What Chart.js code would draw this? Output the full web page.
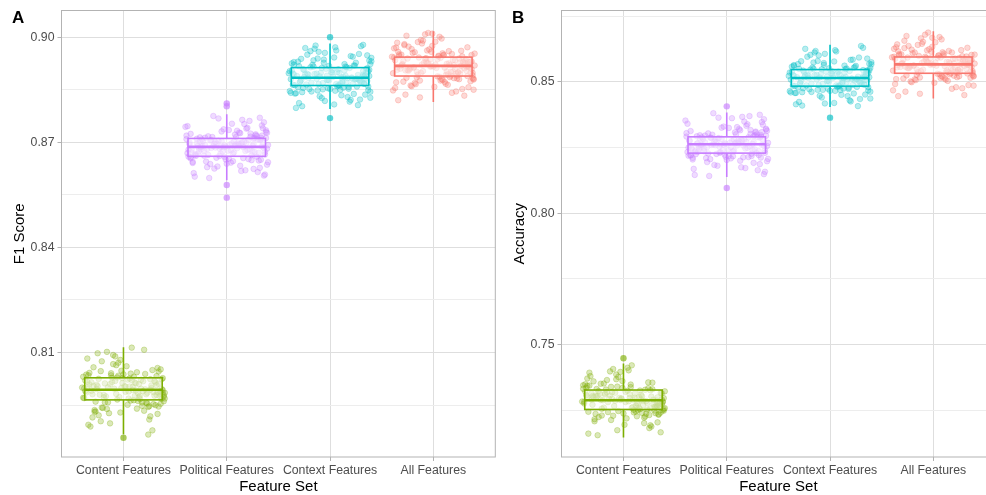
<!DOCTYPE html>
<html lang="en">
<head>
  <meta charset="UTF-8" />
  <title>Feature Set Comparison</title>
  <script src="https://cdn.jsdelivr.net/npm/chart.js"></script>
  <style>
    html, body { margin: 0; padding: 0; background: #fff; overflow: hidden; width: 986px; height: 495px; }
    .panel { position: absolute; top: 0; }
    .tag { position: absolute; top: 8px; font: bold 17px "Liberation Sans", Arial, sans-serif; color: #000; line-height: 1.15; }
  </style>
</head>
<body>
  <div class="panel" style="left:0"><canvas id="f1Chart" width="500" height="495"></canvas></div>
  <div class="panel" style="left:500px"><canvas id="accChart" width="500" height="495"></canvas></div>
  <div class="tag" style="left:12px">A</div>
  <div class="tag" style="left:512px">B</div>

  <script>
    const categories = ['Content Features', 'Political Features', 'Context Features', 'All Features'];
    const colors = ['#7CAE00', '#C77CFF', '#00BFC4', '#F8766D'];

    // horizontal jitter (category units)
    const jitterX = [
      -0.31, 0.12, 0.37, -0.05, 0.24, -0.38, 0.08, -0.19, 0.33, -0.27,
      0.02, 0.29, -0.12, 0.18, -0.35, 0.39, -0.08, 0.21, -0.24, 0.06,
      0.35, -0.33, 0.14, -0.02, 0.27, -0.16, 0.31, -0.39, 0.10, -0.22,
      0.38, -0.10, 0.16, -0.29, 0.04, 0.26, -0.36, 0.20, -0.06, 0.34,
      -0.14, 0.00, -0.26, 0.22, 0.36, -0.18, 0.09, -0.32, 0.30, -0.04,
      0.13, -0.37, 0.25, -0.11, 0.40, -0.21, 0.05, 0.32, -0.28, 0.17,
      -0.09, 0.28, -0.34, 0.11, -0.01, 0.23, -0.25, 0.36, -0.15, 0.07,
      0.34, -0.30, 0.19, -0.07, 0.38, -0.20, 0.03, 0.26, -0.38, 0.15,
      -0.13, 0.32, -0.23, 0.01, 0.29, -0.35, 0.12, -0.03, 0.37, -0.17,
      0.21, -0.27, 0.08, 0.33, -0.11, 0.18, -0.40, 0.24, -0.06, 0.39,
      0.27, -0.19, -0.36, 0.05, 0.31, -0.08, 0.14, -0.29, 0.39, -0.02,
      -0.24, 0.20, 0.09, -0.33, 0.35, -0.13, 0.25, -0.39, 0.02, 0.16,
      -0.05, 0.37, -0.21, 0.11, -0.30, 0.28, -0.15, 0.06, 0.33, -0.37,
      0.19, -0.10, 0.40, -0.26, 0.13, -0.01, 0.23, -0.34, 0.07, 0.30,
      -0.18, 0.36, -0.07, 0.17, -0.28, 0.04, 0.32, -0.22, 0.10, -0.35,
      0.26, -0.12, 0.38, -0.03, 0.22, -0.31, 0.15, -0.16, 0.34, -0.25
    ];
    const jitterShift = [0, 23, 47, 71];

    // ---- Panel A: F1 score ----
    const f1Content = [
      0.7991, 0.8012, 0.7968, 0.8034, 0.7945, 0.7998, 0.8021, 0.7979, 0.8056, 0.7932,
      0.8003, 0.7987, 0.8041, 0.7958, 0.8017, 0.7974, 0.8089, 0.7995, 0.7921, 0.8026,
      0.7983, 0.8009, 0.7962, 0.8048, 0.7999, 0.7939, 0.8015, 0.7971, 0.8031, 0.7904,
      0.7993, 0.8067, 0.7977, 0.8005, 0.7951, 0.8024, 0.7986, 0.8108, 0.7966, 0.8011,
      0.7927, 0.8038, 0.7996, 0.7981, 0.8052, 0.7958, 0.8002, 0.7889, 0.8019, 0.7973,
      0.8044, 0.7990, 0.7947, 0.8028, 0.7985, 0.8075, 0.7969, 0.8007, 0.7936, 0.8022,
      0.7997, 0.7878, 0.8035, 0.7976, 0.8013, 0.7955, 0.8098, 0.7988, 0.8001, 0.7963,
      0.8046, 0.7915, 0.8018, 0.7982, 0.8027, 0.7942, 0.8061, 0.7994, 0.7970, 0.8010,
      0.7898, 0.8033, 0.7980, 0.8004, 0.7953, 0.8083, 0.7992, 0.7929, 0.8024, 0.7975,
      0.8039, 0.7960, 0.8114, 0.7987, 0.8016, 0.7948, 0.8000, 0.7866, 0.8029, 0.7978,
      0.8006, 0.7972, 0.8037, 0.7989, 0.7950, 0.8019, 0.7984, 0.8058, 0.7961, 0.7999,
      0.8025, 0.7934, 0.7993, 0.8042, 0.7976, 0.8010, 0.7909, 0.8031, 0.7988, 0.7967,
      0.8071, 0.7996, 0.7943, 0.8014, 0.7981, 0.8050, 0.7958, 0.8003, 0.7925, 0.8020,
      0.7990, 0.8093, 0.7969, 0.8008, 0.7940, 0.8027, 0.7985, 0.7894, 0.8040, 0.7977,
      0.8012, 0.7954, 0.8064, 0.7997, 0.7931, 0.8023, 0.7979, 0.8047, 0.7964, 0.8001,
      0.7918, 0.8035, 0.7986, 0.8079, 0.7957, 0.8015, 0.7973, 0.8102, 0.7946, 0.8004
    ];
    const f1Political = [
      0.8691, 0.8672, 0.8705, 0.8648, 0.8719, 0.8683, 0.8662, 0.8734, 0.8696, 0.8655,
      0.8710, 0.8677, 0.8624, 0.8699, 0.8741, 0.8668, 0.8688, 0.8715, 0.8639, 0.8702,
      0.8680, 0.8757, 0.8664, 0.8694, 0.8612, 0.8708, 0.8674, 0.8726, 0.8659, 0.8690,
      0.8685, 0.8643, 0.8713, 0.8697, 0.8770, 0.8667, 0.8701, 0.8631, 0.8723, 0.8679,
      0.8692, 0.8651, 0.8716, 0.8686, 0.8605, 0.8706, 0.8671, 0.8748, 0.8661, 0.8698,
      0.8682, 0.8729, 0.8645, 0.8693, 0.8711, 0.8669, 0.8764, 0.8689, 0.8627, 0.8703,
      0.8676, 0.8718, 0.8657, 0.8695, 0.8737, 0.8665, 0.8598, 0.8707, 0.8684, 0.8722,
      0.8650, 0.8700, 0.8675, 0.8744, 0.8663, 0.8687, 0.8636, 0.8712, 0.8681, 0.8694,
      0.8753, 0.8670, 0.8704, 0.8618, 0.8697, 0.8727, 0.8658, 0.8689, 0.8678, 0.8715,
      0.8641, 0.8699, 0.8775, 0.8673, 0.8709, 0.8653, 0.8686, 0.8731, 0.8608, 0.8692,
      0.8698, 0.8666, 0.8720, 0.8684, 0.8646, 0.8707, 0.8679, 0.8739, 0.8656, 0.8692,
      0.8714, 0.8633, 0.8688, 0.8725, 0.8671, 0.8702, 0.8615, 0.8717, 0.8683, 0.8661,
      0.8752, 0.8690, 0.8642, 0.8706, 0.8676, 0.8733, 0.8654, 0.8695, 0.8625, 0.8712,
      0.8686, 0.8761, 0.8664, 0.8700, 0.8638, 0.8719, 0.8680, 0.8602, 0.8728, 0.8672,
      0.8703, 0.8649, 0.8746, 0.8691, 0.8629, 0.8713, 0.8674, 0.8735, 0.8659, 0.8696,
      0.8620, 0.8724, 0.8682, 0.8768, 0.8652, 0.8708, 0.8668, 0.8740, 0.8644, 0.8697
    ];
    const f1Context = [
      0.8889, 0.8871, 0.8910, 0.8856, 0.8925, 0.8880, 0.8866, 0.8941, 0.8893, 0.8847,
      0.8903, 0.8877, 0.8829, 0.8898, 0.8952, 0.8863, 0.8885, 0.8918, 0.8838, 0.8906,
      0.8875, 0.8967, 0.8860, 0.8891, 0.8812, 0.8912, 0.8869, 0.8933, 0.8852, 0.8887,
      0.8882, 0.8841, 0.8916, 0.8896, 0.8978, 0.8865, 0.8901, 0.8822, 0.8929, 0.8874,
      0.8890, 0.8849, 0.8921, 0.8883, 0.8803, 0.8908, 0.8868, 0.8958, 0.8858, 0.8897,
      0.8879, 0.8936, 0.8844, 0.8892, 0.8914, 0.8864, 0.8971, 0.8886, 0.8826, 0.8905,
      0.8873, 0.8923, 0.8854, 0.8894, 0.8946, 0.8861, 0.8798, 0.8909, 0.8881, 0.8927,
      0.8846, 0.8899, 0.8872, 0.8955, 0.8859, 0.8884, 0.8834, 0.8917, 0.8878, 0.8895,
      0.8962, 0.8867, 0.8904, 0.8816, 0.8888, 0.8931, 0.8855, 0.8886, 0.8876, 0.8919,
      0.8839, 0.8900, 0.8974, 0.8870, 0.8911, 0.8851, 0.8883, 0.8938, 0.8808, 0.8893,
      0.8895, 0.8868, 0.8921, 0.8881, 0.8848, 0.8907, 0.8877, 0.8944, 0.8857, 0.8890,
      0.8916, 0.8836, 0.8886, 0.8930, 0.8870, 0.8902, 0.8818, 0.8919, 0.8880, 0.8863,
      0.8960, 0.8888, 0.8843, 0.8906, 0.8874, 0.8939, 0.8853, 0.8894, 0.8827, 0.8912,
      0.8885, 0.8969, 0.8866, 0.8899, 0.8840, 0.8923, 0.8878, 0.8806, 0.8934, 0.8871,
      0.8903, 0.8850, 0.8950, 0.8889, 0.8831, 0.8914, 0.8873, 0.8942, 0.8859, 0.8896,
      0.8821, 0.8927, 0.8882, 0.8976, 0.8852, 0.8908, 0.8867, 0.8948, 0.8845, 0.8898
    ];
    const f1All = [
      0.8921, 0.8902, 0.8940, 0.8883, 0.8955, 0.8912, 0.8895, 0.8968, 0.8925, 0.8876,
      0.8937, 0.8908, 0.8858, 0.8929, 0.8984, 0.8892, 0.8916, 0.8949, 0.8866, 0.8934,
      0.8905, 0.8996, 0.8889, 0.8922, 0.8841, 0.8944, 0.8899, 0.8962, 0.8881, 0.8918,
      0.8913, 0.8871, 0.8947, 0.8927, 0.9008, 0.8894, 0.8932, 0.8850, 0.8958, 0.8904,
      0.8920, 0.8878, 0.8951, 0.8914, 0.8828, 0.8939, 0.8897, 0.8987, 0.8886, 0.8926,
      0.8909, 0.8966, 0.8872, 0.8923, 0.8945, 0.8893, 0.9001, 0.8917, 0.8855, 0.8935,
      0.8903, 0.8953, 0.8884, 0.8924, 0.8975, 0.8890, 0.8820, 0.8941, 0.8911, 0.8957,
      0.8874, 0.8930, 0.8901, 0.8980, 0.8888, 0.8915, 0.8862, 0.8948, 0.8907, 0.8928,
      0.8992, 0.8898, 0.8936, 0.8845, 0.8919, 0.8960, 0.8885, 0.8916, 0.8906, 0.8950,
      0.8867, 0.8931, 0.9012, 0.8900, 0.8942, 0.8880, 0.8914, 0.8971, 0.8836, 0.8922,
      0.8928, 0.8898, 0.8952, 0.8914, 0.8879, 0.8938, 0.8909, 0.8973, 0.8887, 0.8922,
      0.8946, 0.8864, 0.8917, 0.8961, 0.8901, 0.8933, 0.8848, 0.8950, 0.8912, 0.8891,
      0.8990, 0.8920, 0.8873, 0.8937, 0.8905, 0.8970, 0.8883, 0.8926, 0.8857, 0.8942,
      0.8916, 0.9004, 0.8896, 0.8930, 0.8869, 0.8954, 0.8910, 0.8833, 0.8965, 0.8902,
      0.8934, 0.8880, 0.8982, 0.8919, 0.8860, 0.8945, 0.8904, 0.8977, 0.8890, 0.8927,
      0.8852, 0.8958, 0.8913, 0.9010, 0.8882, 0.8939, 0.8899, 0.8986, 0.8876, 0.8929
    ];
    const f1Q1 = [0.7965, 0.8660, 0.8862, 0.8889];
    const f1Median = [0.7994, 0.8687, 0.8884, 0.8918];
    const f1Q3 = [0.8028, 0.8711, 0.8913, 0.8943];
    const f1Low = [0.7867, 0.8592, 0.8795, 0.8815];
    const f1High = [0.8115, 0.8780, 0.8982, 0.9017];
    const f1Outliers = [[0.7857], [0.8811, 0.8803, 0.8578, 0.8542], [0.9000, 0.8769], []];
    const f1Ticks = [0.795, 0.81, 0.825, 0.84, 0.855, 0.87, 0.885, 0.90];
    const f1Major = [0.81, 0.84, 0.87, 0.90];

    // ---- Panel B: accuracy ----
    const accContent = [
      0.7291, 0.7268, 0.7315, 0.7247, 0.7334, 0.7282, 0.7259, 0.7352, 0.7299, 0.7236,
      0.7320, 0.7275, 0.7213, 0.7303, 0.7371, 0.7255, 0.7286, 0.7328, 0.7224, 0.7311,
      0.7279, 0.7393, 0.7251, 0.7295, 0.7188, 0.7318, 0.7264, 0.7345, 0.7242, 0.7289,
      0.7284, 0.7229, 0.7325, 0.7301, 0.7412, 0.7257, 0.7307, 0.7201, 0.7340, 0.7271,
      0.7293, 0.7238, 0.7331, 0.7285, 0.7166, 0.7314, 0.7262, 0.7380, 0.7249, 0.7297,
      0.7277, 0.7349, 0.7232, 0.7294, 0.7322, 0.7256, 0.7402, 0.7287, 0.7208, 0.7309,
      0.7266, 0.7330, 0.7244, 0.7298, 0.7361, 0.7253, 0.7155, 0.7316, 0.7281, 0.7338,
      0.7235, 0.7304, 0.7270, 0.7386, 0.7250, 0.7288, 0.7219, 0.7326, 0.7276, 0.7300,
      0.7398, 0.7261, 0.7312, 0.7195, 0.7290, 0.7343, 0.7245, 0.7289, 0.7273, 0.7329,
      0.7226, 0.7306, 0.7421, 0.7265, 0.7319, 0.7240, 0.7283, 0.7356, 0.7174, 0.7296,
      0.7302, 0.7260, 0.7336, 0.7284, 0.7239, 0.7317, 0.7274, 0.7360, 0.7248, 0.7294,
      0.7323, 0.7222, 0.7290, 0.7344, 0.7267, 0.7306, 0.7182, 0.7332, 0.7281, 0.7254,
      0.7377, 0.7292, 0.7230, 0.7313, 0.7271, 0.7355, 0.7243, 0.7297, 0.7204, 0.7321,
      0.7286, 0.7407, 0.7258, 0.7303, 0.7227, 0.7335, 0.7278, 0.7161, 0.7348, 0.7263,
      0.7310, 0.7241, 0.7368, 0.7291, 0.7216, 0.7324, 0.7269, 0.7351, 0.7252, 0.7299,
      0.7193, 0.7339, 0.7280, 0.7396, 0.7237, 0.7314, 0.7259, 0.7365, 0.7233, 0.7305
    ];
    const accPolitical = [
      0.8266, 0.8244, 0.8288, 0.8222, 0.8305, 0.8258, 0.8236, 0.8322, 0.8272, 0.8213,
      0.8293, 0.8251, 0.8192, 0.8278, 0.8339, 0.8232, 0.8261, 0.8299, 0.8203, 0.8285,
      0.8254, 0.8358, 0.8228, 0.8269, 0.8169, 0.8290, 0.8241, 0.8316, 0.8219, 0.8264,
      0.8259, 0.8207, 0.8296, 0.8275, 0.8375, 0.8234, 0.8281, 0.8181, 0.8311, 0.8248,
      0.8267, 0.8215, 0.8302, 0.8260, 0.8149, 0.8287, 0.8239, 0.8347, 0.8225, 0.8271,
      0.8253, 0.8319, 0.8210, 0.8268, 0.8294, 0.8233, 0.8367, 0.8262, 0.8187, 0.8283,
      0.8243, 0.8300, 0.8221, 0.8273, 0.8330, 0.8230, 0.8142, 0.8289, 0.8257, 0.8308,
      0.8212, 0.8279, 0.8247, 0.8353, 0.8227, 0.8263, 0.8198, 0.8297, 0.8252, 0.8274,
      0.8362, 0.8237, 0.8286, 0.8175, 0.8265, 0.8314, 0.8223, 0.8262, 0.8249, 0.8301,
      0.8205, 0.8280, 0.8381, 0.8242, 0.8292, 0.8218, 0.8258, 0.8326, 0.8158, 0.8270,
      0.8276, 0.8238, 0.8308, 0.8260, 0.8217, 0.8292, 0.8250, 0.8333, 0.8226, 0.8268,
      0.8297, 0.8200, 0.8265, 0.8317, 0.8244, 0.8281, 0.8164, 0.8304, 0.8257, 0.8231,
      0.8349, 0.8267, 0.8209, 0.8288, 0.8246, 0.8328, 0.8220, 0.8272, 0.8184, 0.8295,
      0.8261, 0.8370, 0.8235, 0.8278, 0.8206, 0.8309, 0.8253, 0.8146, 0.8321, 0.8240,
      0.8284, 0.8218, 0.8341, 0.8266, 0.8195, 0.8298, 0.8245, 0.8325, 0.8229, 0.8274,
      0.8172, 0.8313, 0.8256, 0.8364, 0.8214, 0.8289, 0.8236, 0.8337, 0.8211, 0.8279
    ];
    const accContext = [
      0.8518, 0.8496, 0.8540, 0.8475, 0.8558, 0.8510, 0.8488, 0.8575, 0.8524, 0.8466,
      0.8545, 0.8503, 0.8446, 0.8530, 0.8593, 0.8485, 0.8513, 0.8552, 0.8456, 0.8537,
      0.8506, 0.8612, 0.8481, 0.8521, 0.8424, 0.8542, 0.8493, 0.8569, 0.8472, 0.8516,
      0.8511, 0.8460, 0.8549, 0.8527, 0.8630, 0.8487, 0.8533, 0.8435, 0.8564, 0.8500,
      0.8519, 0.8468, 0.8555, 0.8512, 0.8410, 0.8539, 0.8491, 0.8601, 0.8478, 0.8523,
      0.8505, 0.8572, 0.8463, 0.8520, 0.8547, 0.8486, 0.8621, 0.8514, 0.8441, 0.8535,
      0.8495, 0.8553, 0.8474, 0.8525, 0.8584, 0.8483, 0.8415, 0.8541, 0.8509, 0.8561,
      0.8465, 0.8531, 0.8499, 0.8607, 0.8480, 0.8515, 0.8451, 0.8550, 0.8504, 0.8526,
      0.8616, 0.8490, 0.8538, 0.8430, 0.8517, 0.8567, 0.8476, 0.8514, 0.8501, 0.8554,
      0.8458, 0.8532, 0.8637, 0.8494, 0.8544, 0.8470, 0.8510, 0.8579, 0.8420, 0.8522,
      0.8527, 0.8490, 0.8561, 0.8512, 0.8470, 0.8544, 0.8502, 0.8585, 0.8479, 0.8520,
      0.8550, 0.8452, 0.8517, 0.8568, 0.8496, 0.8534, 0.8418, 0.8557, 0.8509, 0.8485,
      0.8603, 0.8519, 0.8461, 0.8540, 0.8498, 0.8580, 0.8473, 0.8524, 0.8437, 0.8548,
      0.8513, 0.8626, 0.8487, 0.8531, 0.8458, 0.8562, 0.8505, 0.8408, 0.8574, 0.8492,
      0.8536, 0.8469, 0.8596, 0.8518, 0.8447, 0.8551, 0.8497, 0.8578, 0.8481, 0.8526,
      0.8426, 0.8565, 0.8508, 0.8618, 0.8466, 0.8543, 0.8489, 0.8589, 0.8462, 0.8529
    ];
    const accAll = [
      0.8570, 0.8548, 0.8592, 0.8526, 0.8609, 0.8562, 0.8540, 0.8626, 0.8576, 0.8517,
      0.8597, 0.8555, 0.8497, 0.8582, 0.8643, 0.8536, 0.8565, 0.8603, 0.8507, 0.8589,
      0.8558, 0.8662, 0.8532, 0.8573, 0.8474, 0.8594, 0.8545, 0.8620, 0.8523, 0.8568,
      0.8563, 0.8511, 0.8600, 0.8579, 0.8680, 0.8538, 0.8585, 0.8486, 0.8615, 0.8552,
      0.8571, 0.8519, 0.8606, 0.8564, 0.8455, 0.8591, 0.8543, 0.8651, 0.8529, 0.8575,
      0.8557, 0.8623, 0.8514, 0.8572, 0.8598, 0.8537, 0.8671, 0.8566, 0.8492, 0.8587,
      0.8547, 0.8604, 0.8525, 0.8577, 0.8634, 0.8534, 0.8446, 0.8593, 0.8561, 0.8612,
      0.8516, 0.8583, 0.8551, 0.8657, 0.8531, 0.8567, 0.8502, 0.8601, 0.8556, 0.8578,
      0.8666, 0.8541, 0.8590, 0.8480, 0.8569, 0.8618, 0.8527, 0.8566, 0.8553, 0.8605,
      0.8509, 0.8584, 0.8688, 0.8546, 0.8596, 0.8522, 0.8562, 0.8630, 0.8463, 0.8574,
      0.8579, 0.8541, 0.8612, 0.8564, 0.8521, 0.8596, 0.8554, 0.8637, 0.8530, 0.8572,
      0.8602, 0.8504, 0.8569, 0.8621, 0.8548, 0.8585, 0.8468, 0.8608, 0.8561, 0.8535,
      0.8653, 0.8571, 0.8513, 0.8592, 0.8550, 0.8632, 0.8524, 0.8576, 0.8488, 0.8599,
      0.8565, 0.8675, 0.8539, 0.8583, 0.8510, 0.8613, 0.8557, 0.8450, 0.8625, 0.8544,
      0.8588, 0.8522, 0.8645, 0.8570, 0.8499, 0.8601, 0.8549, 0.8629, 0.8533, 0.8578,
      0.8476, 0.8617, 0.8560, 0.8668, 0.8518, 0.8593, 0.8540, 0.8641, 0.8515, 0.8583
    ];
    const accQ1 = [0.7253, 0.8229, 0.8484, 0.8533];
    const accMedian = [0.7288, 0.8263, 0.8515, 0.8567];
    const accQ3 = [0.7327, 0.8291, 0.8547, 0.8595];
    const accLow = [0.7146, 0.8138, 0.8405, 0.8437];
    const accHigh = [0.7428, 0.8384, 0.8642, 0.8693];
    const accOutliers = [[0.7448], [0.8407, 0.8096], [0.8364], []];
    const accTicks = [0.725, 0.75, 0.775, 0.80, 0.825, 0.85, 0.875];
    const accMajor = [0.75, 0.80, 0.85];

    const FONT = '"Liberation Sans", Arial, sans-serif';

    const rgba = (hex, a) => {
      const n = parseInt(hex.slice(1), 16);
      return `rgba(${n >> 16},${(n >> 8) & 255},${n & 255},${a})`;
    };

    const makePanel = (id, yTitle, groups, stats, outliers, ticks, major, yMin, yMax) => {
      const datasets = groups.map((vals, g) => ({
        data: vals.map((v, i) => ({ x: g + 1 + jitterX[(i + jitterShift[g]) % jitterX.length], y: v })),
        pointRadius: 2.8,
        pointBackgroundColor: rgba(colors[g], 0.28),
        pointBorderColor: rgba(colors[g], 0.4),
        pointBorderWidth: 0.7
      }));
      outliers.forEach((vals, g) => {
        datasets.push({
          data: vals.map(v => ({ x: g + 1, y: v })),
          pointRadius: 3.2,
          pointBackgroundColor: rgba(colors[g], 0.65),
          pointBorderColor: rgba(colors[g], 0.65),
          pointBorderWidth: 0
        });
      });

      const boxes = {
        id: 'boxes',
        afterDatasetsDraw(chart) {
          const { ctx, chartArea: a, scales: { x, y } } = chart;
          ctx.save();
          stats.median.forEach((m, g) => {
            const cx = x.getPixelForValue(g + 1);
            const x0 = x.getPixelForValue(g + 1 - 0.375);
            const x1 = x.getPixelForValue(g + 1 + 0.375);
            const y1 = y.getPixelForValue(stats.q1[g]);
            const y3 = y.getPixelForValue(stats.q3[g]);
            ctx.strokeStyle = colors[g];
            ctx.lineWidth = 1.6;
            ctx.beginPath();
            ctx.moveTo(cx, y.getPixelForValue(stats.high[g]));
            ctx.lineTo(cx, y3);
            ctx.moveTo(cx, y1);
            ctx.lineTo(cx, y.getPixelForValue(stats.low[g]));
            ctx.stroke();
            ctx.fillStyle = 'rgba(255,255,255,0.55)';
            ctx.fillRect(x0, y3, x1 - x0, y1 - y3);
            ctx.strokeRect(x0, y3, x1 - x0, y1 - y3);
            ctx.lineWidth = 2.6;
            const ym = y.getPixelForValue(m);
            ctx.beginPath();
            ctx.moveTo(x0, ym);
            ctx.lineTo(x1, ym);
            ctx.stroke();
          });
          ctx.strokeStyle = '#B3B3B3';
          ctx.lineWidth = 1;
          ctx.strokeRect(a.left, a.top, a.width, a.height);
          ctx.restore();
        }
      };

      new Chart(document.getElementById(id), {
        type: 'scatter',
        data: { datasets },
        options: {
          responsive: false,
          animation: false,
          events: [],
          layout: { padding: { top: 10.5, right: 4.7, left: 0, bottom: 0 } },
          plugins: { legend: { display: false }, tooltip: { enabled: false } },
          scales: {
            x: {
              type: 'linear',
              min: 0.4,
              max: 4.6,
              afterBuildTicks: s => { s.ticks = categories.map((c, i) => ({ value: i + 1 })); },
              afterFit: s => { s.height = 38; },
              border: { display: false },
              grid: { color: '#DEDEDE', tickColor: '#B3B3B3', tickLength: 4 },
              ticks: {
                autoSkip: false, maxRotation: 0, padding: 2,
                color: '#4D4D4D', font: { family: FONT, size: 12.3 },
                callback: v => categories[v - 1]
              },
              title: {
                display: true, text: 'Feature Set', color: '#000',
                font: { family: FONT, size: 15, lineHeight: 1.1 }, padding: { top: 0, bottom: 0 }
              }
            },
            y: {
              type: 'linear',
              min: yMin,
              max: yMax,
              afterBuildTicks: s => { s.ticks = ticks.map(v => ({ value: v })); },
              afterFit: s => { s.width = 61.5; },
              border: { display: false },
              grid: {
                color: c => major.includes(c.tick.value) ? '#DEDEDE' : '#EDEDED',
                tickColor: c => major.includes(c.tick.value) ? '#B3B3B3' : 'rgba(0,0,0,0)',
                tickLength: 4
              },
              ticks: {
                padding: 3, color: '#4D4D4D', font: { family: FONT, size: 12.3 },
                callback: v => major.includes(v) ? v.toFixed(2) : ''
              },
              title: {
                display: true, text: yTitle, color: '#000',
                font: { family: FONT, size: 15 }, padding: { top: 10.5, bottom: 0 }
              }
            }
          }
        },
        plugins: [boxes]
      });
    };

    makePanel('f1Chart', 'F1 Score',
      [f1Content, f1Political, f1Context, f1All],
      { q1: f1Q1, median: f1Median, q3: f1Q3, low: f1Low, high: f1High },
      f1Outliers, f1Ticks, f1Major, 0.7802, 0.9076);

    makePanel('accChart', 'Accuracy',
      [accContent, accPolitical, accContext, accAll],
      { q1: accQ1, median: accMedian, q3: accQ3, low: accLow, high: accHigh },
      accOutliers, accTicks, accMajor, 0.7072, 0.8772);
  </script>
</body>
</html>
